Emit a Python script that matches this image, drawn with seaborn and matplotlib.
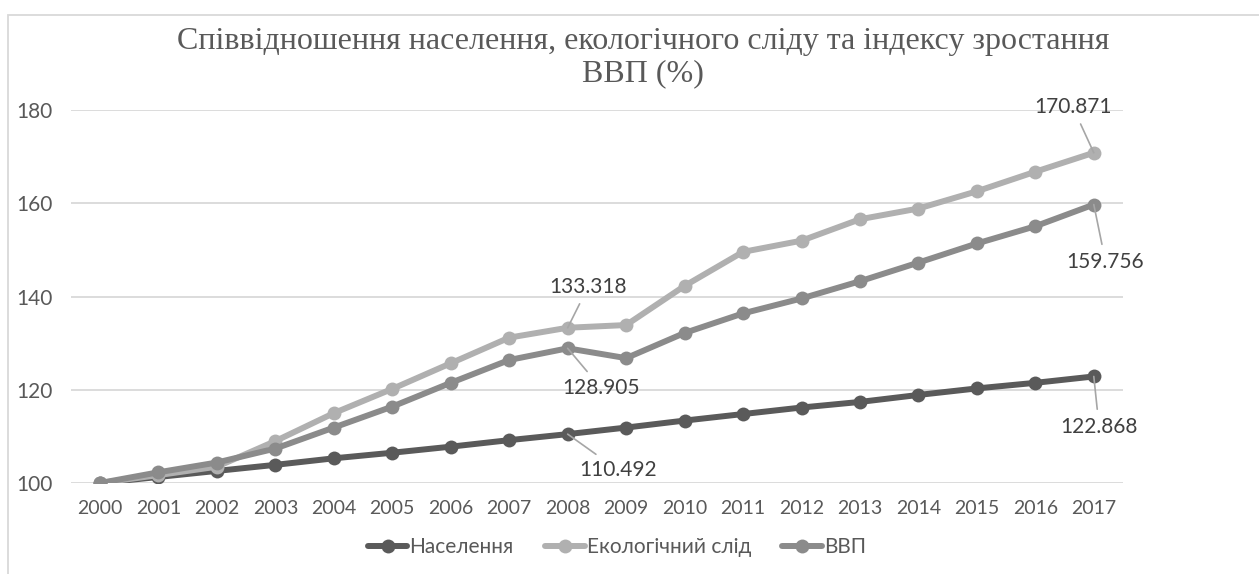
import matplotlib.pyplot as plt
import pandas as pd
import seaborn as sns
from matplotlib.patches import Rectangle

# дані з графіка
years = [str(y) for y in range(2000, 2018)]
naselennia = [100.0, 101.3, 102.6, 103.9, 105.3, 106.5, 107.8, 109.2, 110.492,
              111.9, 113.4, 114.8, 116.2, 117.4, 118.9, 120.3, 121.5, 122.868]
eko_slid = [100.0, 101.7, 103.5, 109.0, 115.0, 120.2, 125.7, 131.2, 133.318,
            133.9, 142.3, 149.6, 152.0, 156.6, 158.9, 162.6, 166.8, 170.871]
vvp = [100.0, 102.3, 104.4, 107.4, 111.9, 116.4, 121.5, 126.4, 128.905,
       126.8, 132.2, 136.4, 139.6, 143.3, 147.3, 151.4, 155.1, 159.756]

series_names = ['Населення', 'Екологічний слід', 'ВВП']
colors = ['#5a5a5a', '#b0b0b0', '#8b8b8b']

df = pd.DataFrame({'Рік': years * 3,
                   'Значення': naselennia + eko_slid + vvp,
                   'Показник': [n for n in series_names for _ in years]})

sns.set_theme(style='white')
plt.rcParams['font.family'] = ['Lato', 'Liberation Sans', 'DejaVu Sans']

fig = plt.figure(figsize=(12.59, 5.74), dpi=100)
ax = fig.add_axes([0.0562, 0.1585, 0.8358, 0.6495])

sns.lineplot(data=df, x='Рік', y='Значення', hue='Показник', palette=colors,
             marker='o', markersize=10, markeredgewidth=0, linewidth=4.3,
             sort=False, legend=False, ax=ax)

ax.set_xlim(-0.5, len(years) - 0.5)
ax.set_ylim(100, 180)
ax.set_yticks([100, 120, 140, 160, 180])
ax.yaxis.grid(True, color='#d9d9d9', linewidth=1.3)
ax.set_axisbelow(True)
for s in ax.spines.values():
    s.set_visible(False)
ax.set_xlabel('')
ax.set_ylabel('')
ax.tick_params(axis='x', labelsize=14, colors='#595959', length=0, pad=12)
ax.tick_params(axis='y', labelsize=15, colors='#595959', length=0, pad=13)
for lab in ax.get_xticklabels() + ax.get_yticklabels():
    lab.set_color('#595959')

# підписи значень з виносками: (індекс року, значення, позиція тексту)
value_labels = [
    (8, 133.318, (8.35, 142.1)),
    (8, 128.905, (8.57, 120.4)),
    (8, 110.492, (8.86, 102.8)),
    (17, 170.871, (16.64, 180.7)),
    (17, 159.756, (17.2, 147.5)),
    (17, 122.868, (17.09, 112.1)),
]
for xi, yv, (tx, ty) in value_labels:
    ax.annotate(f'{yv:.3f}', xy=(xi, yv), xytext=(tx, ty), fontsize=15, color='#404040',
                ha='center', va='center', annotation_clip=False,
                arrowprops=dict(arrowstyle='-', color='#a6a6a6', lw=1.2,
                                shrinkA=3, shrinkB=0))

# легенда
handles = [plt.Line2D([], [], color=c, marker='o', markersize=10, linewidth=4.3,
                      markeredgewidth=0) for c in colors]
fig.legend(handles, series_names, loc='center', bbox_to_anchor=(0.49, 0.047),
           ncol=3, frameon=False, fontsize=15, handlelength=1.9,
           columnspacing=1.5, handletextpad=0.1, labelcolor='#595959')

fig.text(0.511, 0.9, 'Співвідношення населення, екологічного сліду та індексу зростання\nВВП (%)',
         ha='center', va='center', fontsize=23, color='#595959',
         family=['Liberation Serif', 'DejaVu Serif'], linespacing=1.15)

fig.add_artist(Rectangle((8 / 1259, -0.05), 1.2, 1.05 - 15 / 574,
                         transform=fig.transFigure, fill=False,
                         edgecolor='#d9d9d9', linewidth=1.3))

fig.savefig('out.png', dpi=100)
